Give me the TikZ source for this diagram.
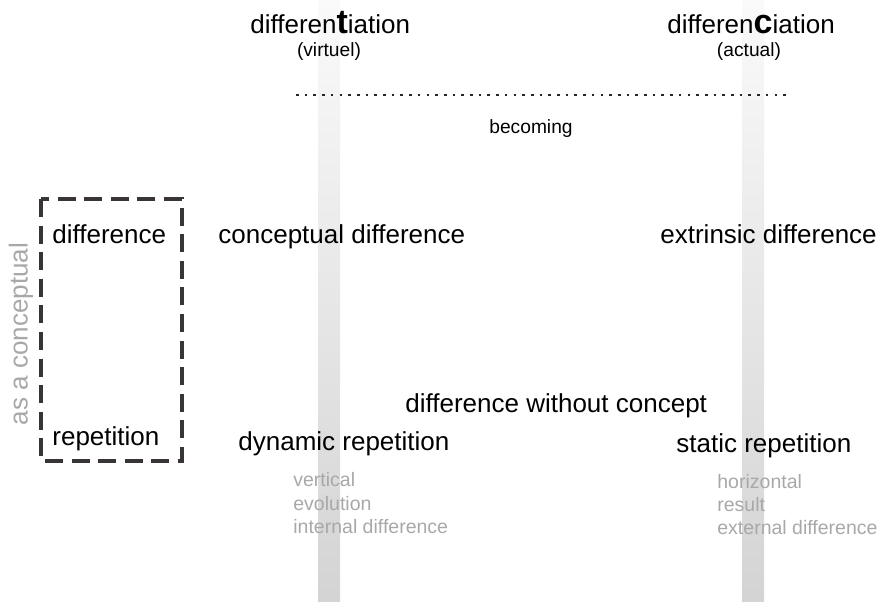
\documentclass[tikz,border=0pt]{standalone}
\usepackage{fontspec}
\setmainfont{Liberation Sans}
\definecolor{boxdark}{HTML}{3A3535}
\definecolor{lightgray}{HTML}{A8A8A8}
\tikzset{
  mainlbl/.style={font=\fontsize{13}{15}\selectfont, text=black, inner sep=0pt, anchor=base west},
  smalllbl/.style={font=\fontsize{9.6}{11}\selectfont, text=black, inner sep=0pt, anchor=base},
  graylbl/.style={font=\fontsize{9.75}{11.75}\selectfont, text=lightgray, inner sep=0pt, anchor=base west},
  bar/.style={top color=gray!4, bottom color=gray!34, draw=none},
}
\begin{document}
\begin{tikzpicture}[x=0.5pt,y=-0.5pt]
\useasboundingbox (0,0) rectangle (879,601);
% vertical gradient bars
\shade[bar] (318,0) rectangle (340,601);
\shade[bar] (742,0) rectangle (764,601);
% headings
\node[mainlbl] (dt) at (250,33) {differen{\fontsize{17}{17}\selectfont\bfseries t}iation};
\node[smalllbl] (virt) at (329,56) {(virtuel)};
\node[mainlbl] (dc) at (667,33) {differen{\fontsize{17}{17}\selectfont\bfseries c}iation};
\node[smalllbl] (act) at (749,56) {(actual)};
% dotted line
\coordinate (dl) at (296,95);
\coordinate (dr) at (788,95);
\draw[line width=1.3pt, dash pattern=on 1.3pt off 3.05pt, color=black!85] (dl) -- (dr);
\node[smalllbl] (bec) at (531,133) {becoming};
% dashed box
\draw[boxdark, line width=1.75pt, dash pattern=on 9pt off 4.3pt] (41,199) rectangle (182,461);
\node[mainlbl] (diff) at (52,243) {difference};
\node[mainlbl] (rep) at (52,445) {repetition};
\node[font=\fontsize{13}{15}\selectfont, text=lightgray, rotate=90, inner sep=0pt] (asc) at (21,334) {as a conceptual};
% main labels
\node[mainlbl] (cd) at (218,243) {conceptual difference};
\node[mainlbl] (ed) at (660,243) {extrinsic difference};
\node[mainlbl] (dwc) at (405,412) {difference without concept};
\node[mainlbl] (dr2) at (238,450) {dynamic repetition};
\node[mainlbl] (sr) at (676,452) {static repetition};
% gray notes
\node[graylbl] (g1a) at (293,486) {vertical};
\node[graylbl] (g1b) at (293,510) {evolution};
\node[graylbl] (g1c) at (293,533) {internal difference};
\node[graylbl] (g2a) at (717,488) {horizontal};
\node[graylbl] (g2b) at (717,511) {result};
\node[graylbl] (g2c) at (717,534) {external difference};
\end{tikzpicture}
\end{document}
